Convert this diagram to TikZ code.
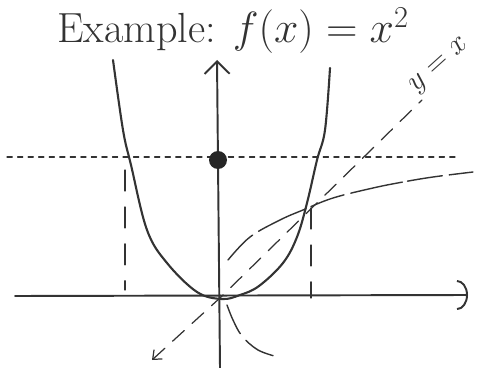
\documentclass[tikz,border=0pt]{standalone}
\usepackage{amsmath,amssymb}
\usepackage{xcolor}
\usepackage{tikz}
\usetikzlibrary{arrows.meta,calc}

\begin{document}
\begin{tikzpicture}[
    x=0.02cm, y=-0.02cm,
    ink/.style  = {draw=black!80, line cap=round, line join=round},
    ax/.style   = {ink, line width=1.1pt},
    crv/.style  = {ink, line width=1.2pt},
    dsh/.style  = {ink, line width=0.7pt, dash pattern=on 9pt off 6pt},
    hln/.style  = {ink, line width=0.6pt, dash pattern=on 3pt off 3pt},
    vgd/.style  = {ink, line width=0.6pt, dash pattern=on 12pt off 9pt},
]
\useasboundingbox (0,0) rectangle (480,368);

%============================ TITLE =================================
\node[font=\fontsize{24}{28}\selectfont, text=black!80, inner sep=0pt,
      anchor=base west] (ttl) at (57,43) {Example: $f(x) = x^2$};

%============================ AXES ==================================
\coordinate (O)  at (221,297);
\coordinate (xl) at (15,296);
\coordinate (xr) at (468,295);
\coordinate (yb) at (220,368);
\coordinate (yt) at (217,60);
\draw[ax, -{Arc Barb[length=2.2mm, width=6mm]}] (xl) -- (xr);
\draw[ax, -{Straight Barb[length=2.5mm, width=5mm]}] (yb) -- (yt);

%======================= LEVEL LINE AND POINT =======================
\coordinate (hl) at (7,157);
\coordinate (hr) at (455,157);
\draw[hln] (hl) -- (hr);
\node[circle, fill=black!85, inner sep=0pt, minimum size=3.6mm] (pt) at (218,160) {};

%============================ PARABOLA ==============================
\draw[crv] plot[smooth, tension=0.6] coordinates {
    (113,60) (123,130) (131,165) (147,230) (167,263) (197,292) (222,299)
    (240,295) (259,286) (283,263) (297,237) (307,203) (317,160) (325,130) (330,68)};

%============================ LINE y = x ============================
\coordinate (dl) at (152,360);
\coordinate (dr) at (422,100);
\draw[dsh, {Straight Barb[length=1.5mm, width=2.5mm]}-] (dl) -- (O) -- (dr);
\node[font=\fontsize{18}{20}\selectfont, text=black!80, rotate=42, inner sep=0pt]
      (lbl) at (440,66) {$y=x$};

%========================= ROOT BRANCHES ============================
\draw[ink, line width=0.8pt, dash pattern=on 20pt off 4pt on 30pt off 3pt]
    plot[smooth, tension=0.6] coordinates {
    (228,260) (250,237) (280,220) (303,210) (333,198) (373,188) (403,182)
    (433,177) (473,172)};
\draw[ink, line width=0.8pt, dash pattern=on 18pt off 5pt]
    plot[smooth, tension=0.6] coordinates {
    (227,305) (233,320) (242,336) (258,350) (278,357)};

%========================= VERTICAL GUIDES ==========================
\coordinate (g1t) at (125,170);
\coordinate (g1b) at (125,290);
\coordinate (g2t) at (311,208);
\coordinate (g2b) at (311,298);
\draw[vgd] (g1t) -- (g1b);
\draw[vgd] (g2t) -- (g2b);

\end{tikzpicture}
\end{document}
